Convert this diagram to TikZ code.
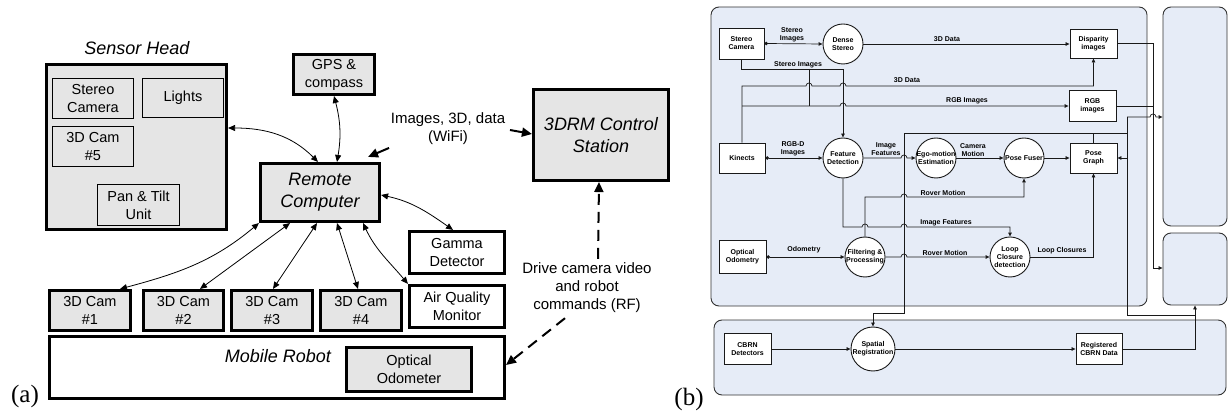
\documentclass[tikz,border=0pt]{standalone}
\usepackage{fontspec}
\setmainfont{Liberation Sans}
\newfontfamily\capfont{Liberation Serif}
\usetikzlibrary{arrows.meta,calc}
\definecolor{boxgray}{RGB}{229,229,229}
\definecolor{panelblue}{RGB}{230,236,247}
\definecolor{ink}{RGB}{25,25,25}
\definecolor{edge}{RGB}{50,50,50}
\newcommand\boxfont{\fontsize{14.5}{18}\selectfont}
\newcommand\titlefont{\fontsize{18}{22}\selectfont\itshape}
\newcommand\flowfont{\fontsize{7}{8}\selectfont\bfseries}
\begin{document}
\begin{tikzpicture}[x=1pt, y=1pt,
  hw/.style={draw=black, line width=2.6pt, fill=boxgray, inner sep=0pt, align=center, font=\boxfont},
  hwwhite/.style={hw, fill=white},
  part/.style={draw=black, line width=0.8pt, fill=boxgray, inner sep=0pt, align=center, font=\boxfont},
  note/.style={align=center, font=\fontsize{15}{18}\selectfont, inner sep=0pt},
  link/.style={draw=black, line width=0.8pt, {Triangle[length=7pt,width=6pt]}-{Triangle[length=7pt,width=6pt]}},
  wifi/.style={draw=black, line width=2pt, -{Triangle[length=10pt,width=9pt]}},
  rflink/.style={draw=black, line width=2pt, dash pattern=on 11pt off 7pt, -{Triangle[length=10pt,width=9pt]}},
  panel/.style={draw=edge, line width=0.9pt, fill=panelblue, rounded corners=8pt, inner sep=0pt},
  proc/.style={draw=ink, line width=0.9pt, fill=white, inner sep=0pt, align=center, font=\flowfont},
  bubble/.style={circle, draw=ink, line width=0.9pt, fill=white, inner sep=0pt, minimum size=40pt},
  tag/.style={font=\flowfont, align=center, inner sep=0pt},
  flow/.style={draw=ink, line width=0.7pt},
  fa/.style={flow, -{Triangle[length=4pt,width=3.5pt]}},
  fda/.style={flow, {Circle[length=3.6pt]}-{Triangle[length=4pt,width=3.5pt]}},
  jump/.style={}
]
\useasboundingbox (0,0) rectangle (1230,-411);

% ---------------- (a) hardware layout ----------------
\node[hw, minimum width=180.5pt, minimum height=165.5pt] (sh) at (136.5,-147) {};
\node[font=\titlefont, inner sep=0pt] (shlabel) at (137,-48) {Sensor Head};
\node[part, minimum width=81pt, minimum height=40pt] (stc) at (93,-98.5) {Stereo\\Camera};
\node[part, minimum width=81pt, minimum height=39pt] (lights) at (183,-98) {Lights};
\node[part, minimum width=81pt, minimum height=40pt] (cam5) at (93,-146.5) {3D Cam\\\#5};
\node[part, minimum width=82pt, minimum height=41pt] (pan) at (138.5,-205) {Pan \& Tilt\\Unit};

\node[hw, minimum width=81.5pt, minimum height=40.5pt] (gps) at (334,-74.5) {GPS \&\\compass};
\node[hw, minimum width=119.5pt, minimum height=58.5pt, font=\titlefont] (rc) at (320,-192.5) {Remote\\Computer};
\node[hw, minimum width=135.5pt, minimum height=91.5pt, font=\titlefont] (drm) at (601,-135) {3DRM Control\\Station};
\node[hwwhite, minimum width=95.5pt, minimum height=42.5pt] (gamma) at (457,-252.5) {Gamma\\Detector};
\node[hwwhite, minimum width=95.5pt, minimum height=42.5pt] (aqm) at (457,-306.5) {Air Quality\\Monitor};

\node[hw, minimum width=81.5pt, minimum height=40.5pt] (cam1) at (90,-310.5) {3D Cam\\\#1};
\node[hw, minimum width=80.5pt, minimum height=40.5pt] (cam2) at (183.5,-310.5) {3D Cam\\\#2};
\node[hw, minimum width=81.5pt, minimum height=40.5pt] (cam3) at (272,-310.5) {3D Cam\\\#3};
\node[hw, minimum width=81.5pt, minimum height=40.5pt] (cam4) at (361,-310.5) {3D Cam\\\#4};

\node[hwwhite, minimum width=455.5pt, minimum height=62.5pt] (mr) at (277,-367.5) {};
\node[font=\titlefont, inner sep=0pt] (mrlabel) at (278,-356) {Mobile Robot};
\node[hw, minimum width=125.5pt, minimum height=44.5pt] (oo) at (409,-369.5) {Optical\\Odometer};

\node[note] (wifilabel) at (448,-129) {Images, 3D, data\\(WiFi)};
\node[note] (rf) at (587,-288) {Drive camera video\\and robot\\commands (RF)};

% links to the remote computer
\draw[link] ([yshift=19pt]sh.east) to[out=0,in=135] ([xshift=-2pt]rc.north);
\draw[link] (gps.south) to[bend left=12] ([xshift=17pt]rc.north);
\draw[link] ([yshift=-2.5pt]rc.east) to[out=-12,in=145] ([xshift=-4pt]gamma.north);
\draw[link] ([xshift=-18pt]rc.south east) to[out=-65,in=130] (aqm.north west);
\draw[link] ([xshift=17pt]rc.south) -- ([xshift=-3pt]cam4.north);
\draw[link] ([xshift=-3pt]rc.south) -- ([xshift=1pt]cam3.north);
\draw[link] ([xshift=-30pt]rc.south) -- ([xshift=16.5pt]cam2.north);
\draw[link] (rc.south west) to[out=-140,in=15] ([xshift=30pt]cam1.north);

% wireless links
\draw[wifi] ([shift={(8pt,14pt)}]rc.north east) -- ([shift={(-13pt,5pt)}]rc.north east);
\draw[wifi] ([shift={(-22pt,5pt)}]drm.west) -- ([yshift=1pt]drm.west);
\draw[rflink] ([xshift=11pt,yshift=4pt]rf.north) -- ([xshift=-2pt]drm.south);
\draw[rflink] ([xshift=-22pt,yshift=-5pt]rf.south) -- ([yshift=2.5pt]mr.east);

\node[font=\capfont\fontsize{25}{25}\selectfont, inner sep=0pt] (capa) at (25,-396) {(a)};

% ---------------- (b) data flow ----------------
\node[panel, minimum width=436pt, minimum height=299pt] (p1) at (929,-156.5) {};
\node[panel, minimum width=64pt, minimum height=219pt] (p2) at (1195,-116.5) {};
\node[panel, minimum width=64pt, minimum height=72pt] (p3) at (1195,-269) {};
\node[panel, minimum width=512pt, minimum height=75pt] (p4) at (970,-357.5) {};

\node[proc, minimum width=45pt, minimum height=31pt] (sc) at (741.5,-43.5) {Stereo\\Camera};
\node[bubble, label={[tag]center:{Dense\\Stereo}}] (ds) at (843,-44) {};
\node[proc, minimum width=47pt, minimum height=29pt] (dis) at (1093.5,-43.5) {Disparity\\images};
\node[proc, minimum width=47pt, minimum height=31pt] (rgb) at (1092.5,-106) {RGB\\images};
\node[proc, minimum width=46pt, minimum height=30pt] (kin) at (742,-158) {Kinects};
\node[bubble, label={[tag]center:{Feature\\Detection}}] (fd) at (843,-158) {};
\node[bubble, label={[tag]center:{Ego-motion\\Estimation}}] (ego) at (936,-158) {};
\node[bubble, label={[tag]center:{Pose Fuser}}] (pf) at (1024,-158) {};
\node[proc, minimum width=47pt, minimum height=30pt] (pg) at (1093.5,-158) {Pose\\Graph};
\node[proc, minimum width=47pt, minimum height=33pt] (od) at (742.5,-257) {Optical\\Odometry};
\node[bubble, label={[tag]center:{Filtering \&\\Processing}}] (fp) at (865,-257) {};
\node[bubble, label={[tag]center:{Loop\\Closure\\detection}}] (lc) at (1010,-257) {};
\node[proc, minimum width=47pt, minimum height=31pt] (cbrn) at (747.5,-349) {CBRN\\Detectors};
\node[bubble, minimum size=44pt, label={[tag]center:{Spatial\\Registration}}] (sr) at (873,-349) {};
\node[proc, minimum width=46pt, minimum height=31pt] (reg) at (1099,-349) {Registered\\CBRN Data};

% flow labels
\node[tag] (t1) at (792,-34.5) {Stereo\\Images};
\node[tag] (t2) at (947,-39) {3D Data};
\node[tag] (t3) at (798,-65) {Stereo Images};
\node[tag] (t4) at (907,-80) {3D Data};
\node[tag] (t5) at (967,-101) {RGB Images};
\node[tag] (t6) at (793,-149) {RGB-D\\Images};
\node[tag] (t7) at (886,-149) {Image\\Features};
\node[tag] (t8) at (973,-150) {Camera\\Motion};
\node[tag] (t9) at (943,-193) {Rover Motion};
\node[tag] (t10) at (946,-223) {Image Features};
\node[tag] (t11) at (804,-250) {Odometry};
\node[tag] (t12) at (945,-253) {Rover Motion};
\node[tag] (t13) at (1062,-251) {Loop Closures};

% stereo branch
\draw[fda] (sc.east) -- (ds.west);
\draw[fa] (ds.east) -- (ds.east -| dis.west);
\draw[fa] (sc.south) |- (fd.north |- 0,-69) -- (fd.north);
\draw[flow] (809,-69) -- (809,-106);
% kinect branch
\draw[fa] (kin.north) -- (742,-86) -- (806,-86) arc[start angle=180,end angle=0,radius=3]
  -- (840,-86) arc[start angle=180,end angle=0,radius=3] -- (dis.south |- 0,-86) -- (dis.south);
\draw[fa] (742,-106) -- (840,-106) arc[start angle=180,end angle=0,radius=3] -- (rgb.west);
\draw[fda] (kin.east) -- (fd.west);
% visual odometry chain
\draw[fa] (fd.east) -- (901,-158) arc[start angle=180,end angle=0,radius=3] -- (ego.west);
\draw[fa] (ego.east) -- (pf.west);
\draw[fa] (pf.east) -- (pg.west);
\draw[fa] (fd.south) |- (862,-227) arc[start angle=180,end angle=0,radius=3]
  -- (901,-227) arc[start angle=180,end angle=0,radius=3] -- (lc.north |- 0,-227) -- (lc.north);
\draw[fa] (fp.north) |- (901,-197) arc[start angle=180,end angle=0,radius=3] -- (pf.south |- 0,-197) -- (pf.south);
\draw[fda] (od.east) -- (fp.west);
\draw[fa] (fp.east) -- (901,-257) arc[start angle=180,end angle=0,radius=3] -- (lc.west);
\draw[fa] (lc.east) -| (pg.south);
% pose graph outputs
\draw[flow] (pg.north) -- (pg.north |- 0,-133);
\draw[fa] (1127,-133) -- (904,-133) -- (904,-313) -| (sr.north);
\draw[flow] (1127,-117) -- (1127,-315) -- (p3.south |- 0,-315);
\draw[fa] (1127,-117) -- (1150,-117) arc[start angle=180,end angle=0,radius=3] -- (p2.west |- 0,-117);
\draw[fa] (1127,-158) -- (pg.east);
\draw[fa] (dis.east) -- (1153,-43.5) -- (1153,-268) -- (p3.west |- 0,-268);
\draw[flow] (rgb.east) -- (1153,-106);
% CBRN chain
\draw[fa] (cbrn.east) -- (sr.west);
\draw[fa] (sr.east) -- (reg.west);
\draw[fa] (reg.east) -| (p3.south);

\node[font=\capfont\fontsize{25}{25}\selectfont, inner sep=0pt] (capb) at (689,-399) {(b)};
\end{tikzpicture}
\end{document}
